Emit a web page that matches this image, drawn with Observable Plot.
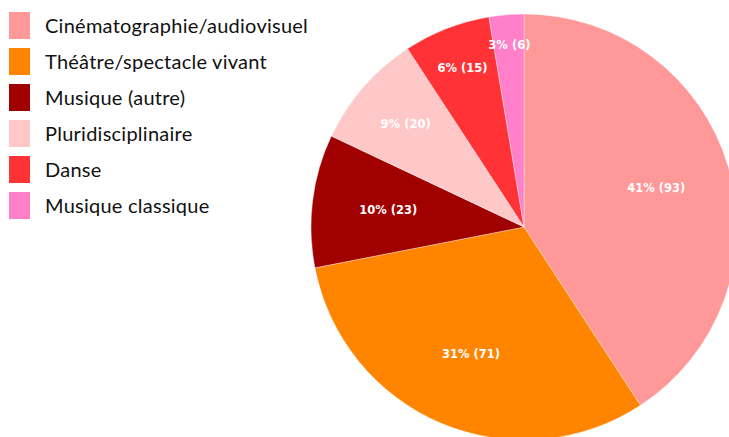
<!DOCTYPE html>
<html><head><meta charset="utf-8">
<script src="https://cdn.jsdelivr.net/npm/d3@7"></script>
<script src="https://cdn.jsdelivr.net/npm/@observablehq/plot@0.6"></script>
<style>
html,body{margin:0;padding:0;background:#fff;overflow:hidden}
#wrap{position:relative;width:729px;height:437px}
#legend{position:absolute;left:9px;top:7px;font-family:Lato,"Open Sans",sans-serif;font-size:20px;letter-spacing:0.25px;color:#111}
.row{display:flex;align-items:center;height:36px;margin:0}
.sw{width:21px;height:27px;margin-right:15px;flex:none}
</style></head>
<body><div id="wrap"><div id="legend"></div></div>
<script>
const categories = ["Cinématographie/audiovisuel","Théâtre/spectacle vivant","Musique (autre)","Pluridisciplinaire","Danse","Musique classique"];
const counts = [93,71,23,20,15,6];
const percents = [41,31,10,9,6,3];
const colors = ["#ff9898","#ff8400","#a00000","#ffc8c8","#ff3236","#ff80c8"];

const data = categories.map((c,i)=>({category:c,count:counts[i],pct:percents[i],color:colors[i]}));
const arcs = d3.pie().sort(null).value(d=>d.count).startAngle(0).endAngle(2*Math.PI)(data);

// label radius (fraction of pie radius): small slices pushed outward
const labelR = p => p >= 10 ? 0.645 : 0.92 - 0.02*p;
const labels = arcs.map(a=>{
  const m=(a.startAngle+a.endAngle)/2, r=labelR(a.data.pct);
  return {x:r*Math.sin(m), y:r*Math.cos(m), text:`${a.data.pct}% (${a.data.count})`};
});

function pieMark(index, scales) {
  const cx = scales.x(0), cy = scales.y(0), R = scales.x(1)-scales.x(0);
  const g = d3.create("svg:g").attr("transform",`translate(${cx},${cy})`);
  const arcGen = d3.arc().innerRadius(0).outerRadius(R);
  g.selectAll("path").data(arcs).join("path")
    .attr("d",arcGen).attr("fill",d=>d.data.color)
    .attr("stroke","#fff").attr("stroke-width",0.6).attr("stroke-opacity",0.6);
  return g.node();
}

const chart = Plot.plot({
  width:729, height:437, margin:0,
  x:{domain:[-1,1], range:[311,737], axis:null},
  y:{domain:[-1,1], range:[440,14], axis:null},
  style:{background:"transparent"},
  marks:[
    pieMark,
    Plot.text(labels,{x:"x",y:"y",text:"text",fill:"white",fontSize:11.5,fontWeight:"bold",
      fontFamily:"'DejaVu Sans', sans-serif"})
  ]
});
document.getElementById("wrap").prepend(chart);
chart.style.position="absolute"; chart.style.left="0"; chart.style.top="0";

const lg = d3.select("#legend");
data.forEach(d=>{
  const r = lg.append("div").attr("class","row");
  r.append("div").attr("class","sw").style("background",d.color);
  r.append("span").text(d.category);
});
</script></body></html>
